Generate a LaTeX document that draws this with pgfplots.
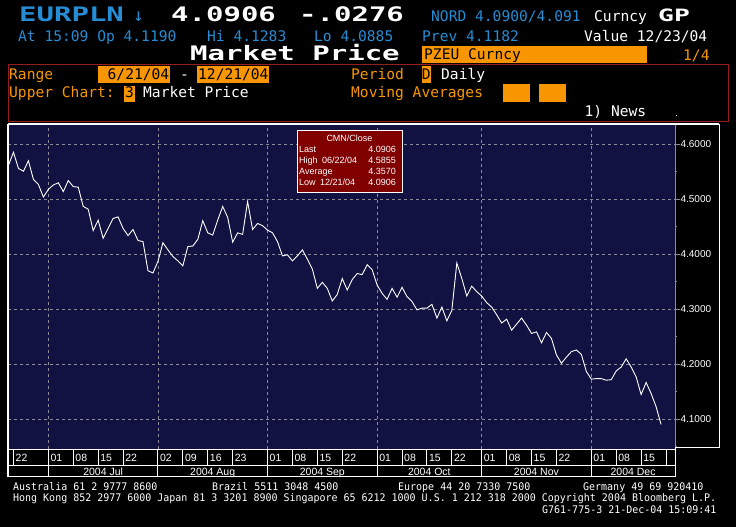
\documentclass[border=0pt]{standalone}
\usepackage{pgfplots}
\pgfplotsset{compat=1.18}
\usepackage{graphicx}
\usepackage{fontspec}
\setmainfont{Liberation Sans}
\newfontfamily\tmono{DejaVu Sans Mono}
\definecolor{bbblue}{RGB}{38,140,212}
\definecolor{bborange}{RGB}{247,150,0}
\definecolor{bbborder}{RGB}{150,30,30}
\definecolor{bbnavy}{RGB}{17,17,66}
\definecolor{bbgrid}{RGB}{140,140,150}
\definecolor{bblegend}{RGB}{128,0,0}
\newcommand\bbT{\fontsize{14.6}{16}\selectfont\tmono}
\newcommand\bbB[1]{\scalebox{1.45}[1]{\fontsize{20}{22}\selectfont\tmono\bfseries #1}}
\newcommand\bbF[1]{\scalebox{1}[1.05]{\fontsize{9.98}{11}\selectfont\tmono #1}}
\newcommand\bbL{\fontsize{9}{10}\selectfont}
\pgfplotstableread{
i v
0 4.562
1 4.5855
2 4.556
3 4.551
4 4.570
5 4.536
6 4.527
7 4.504
8 4.518
9 4.526
10 4.530
11 4.514
12 4.534
13 4.523
14 4.522
15 4.487
16 4.482
17 4.443
18 4.462
19 4.429
20 4.447
21 4.465
22 4.468
23 4.447
24 4.434
25 4.445
26 4.425
27 4.423
28 4.370
29 4.366
30 4.387
31 4.421
32 4.408
33 4.396
34 4.388
35 4.379
36 4.414
37 4.415
38 4.427
39 4.461
40 4.439
41 4.435
42 4.462
43 4.487
44 4.467
45 4.422
46 4.439
47 4.436
48 4.496
49 4.445
50 4.456
51 4.452
52 4.444
53 4.439
54 4.423
55 4.397
56 4.399
57 4.388
58 4.397
59 4.408
60 4.391
61 4.373
62 4.338
63 4.349
64 4.338
65 4.315
66 4.327
67 4.356
68 4.335
69 4.354
70 4.365
71 4.363
72 4.381
73 4.372
74 4.344
75 4.329
76 4.318
77 4.338
78 4.322
79 4.340
80 4.323
81 4.314
82 4.299
83 4.302
84 4.302
85 4.309
86 4.284
87 4.304
88 4.279
89 4.298
90 4.384
91 4.356
92 4.324
93 4.342
94 4.332
95 4.324
96 4.312
97 4.304
98 4.290
99 4.275
100 4.282
101 4.262
102 4.273
103 4.284
104 4.271
105 4.256
106 4.259
107 4.239
108 4.258
109 4.247
110 4.217
111 4.202
112 4.213
113 4.223
114 4.226
115 4.218
116 4.187
117 4.173
118 4.174
119 4.174
120 4.171
121 4.172
122 4.188
123 4.195
124 4.210
125 4.195
126 4.177
127 4.145
128 4.167
129 4.147
130 4.123
131 4.0906
}\prices
\begin{document}
\begin{tikzpicture}
\fill[black] (0pt,0pt) rectangle (736pt,527pt);
\begin{axis}[
  at={(8pt,78pt)}, anchor=south west,
  width=667pt, height=324pt, scale only axis,
  xmin=-0.1, xmax=133.8, ymin=4.046, ymax=4.635,
  axis background/.style={fill=bbnavy},
  axis line style={draw=none},
  xtick={8,30,52,74,95,117}, xticklabels={},
  xtick style={draw=none},
  ytick={4.1,4.2,4.3,4.4,4.5,4.6},
  minor ytick={4.05,4.15,4.25,4.35,4.45,4.55},
  ytick pos=right, yticklabel pos=right,
  ytick align=outside,
  major tick length=5pt, minor tick length=2pt,
  ytick style={bbgrid, line width=0.7pt},
  minor tick style={bbgrid, line width=0.7pt},
  grid=major,
  major grid style={bbgrid, dash pattern=on 3pt off 3pt, line width=0.7pt},
  yticklabel style={font=\fontsize{10}{12}\selectfont, text=white, anchor=west, xshift=-3pt},
  /pgf/number format/.cd, fixed, fixed zerofill, precision=4, assume math mode=true,
]
\addplot[white, line width=0.9pt] table[x=i, y=v] {\prices};
\end{axis}
\begin{scope}[x=1pt,y=1pt]
% frame
\draw[bbgrid, line width=1pt] (675,402) -- (675,78);
\draw[white, line width=1.5pt] (8,403) -- (8,50);
\draw[white, line width=1.2pt] (8,403) -- (719,403);
\draw[white, line width=1pt] (719,403) -- (719,79) -- (675,79);
\draw[white, line width=1pt] (8,77) -- (675,77);
\draw[white, line width=1pt] (8,61) -- (675,61);
\draw[white, line width=1pt] (8,50) -- (675,50);
\draw[white, line width=1pt] (675,79) -- (675,50);
\foreach \i in {1,13,18,23,35,40,45,57,62,67,79,84,89,100,105,110,122,127,132}
  \draw[white, line width=1pt] ({8.5+4.981*\i},77) -- ({8.5+4.981*\i},61);
\foreach \i in {8,30,52,74,95,117}
  \draw[white, line width=1pt] ({8.5+4.981*\i},77) -- ({8.5+4.981*\i},50);
\foreach \i/\l in {1/22,8/01,13/08,18/15,23/22,30/02,35/09,40/16,45/23,52/01,57/08,62/15,67/22,74/01,79/08,84/15,89/22,95/01,100/08,105/15,110/22,117/01,122/08,127/15}
  \node[anchor=base west, inner sep=0pt, text=white, font=\fontsize{10.5}{12}\selectfont] at ({8.5+4.981*\i+2},65.3) {\l};
\foreach \x/\l in {103.1/Jul,212.7/Aug,322.3/Sep,429.3/Oct,536.4/Nov,633.1/Dec}
  \node[anchor=base, inner sep=0pt, text=white, font=\fontsize{10.5}{12}\selectfont] at (\x,51.5) {2004 \l};
% legend box
\draw[white, line width=1pt, fill=bblegend] (297,396) rectangle (402,334);
\node[anchor=base, inner sep=0pt, text=white, font=\bbL] at (349.5,385) {CMN/Close};
\node[anchor=base west, inner sep=0pt, text=white, font=\bbL] at (299,374) {Last};
\node[anchor=base west, inner sep=0pt, text=white, font=\bbL] at (299,363) {High};
\node[anchor=base west, inner sep=0pt, text=white, font=\bbL] at (299,352) {Average};
\node[anchor=base west, inner sep=0pt, text=white, font=\bbL] at (299,341) {Low};
\node[anchor=base west, inner sep=0pt, text=white, font=\bbL] at (322,363) {06/22/04};
\node[anchor=base west, inner sep=0pt, text=white, font=\bbL] at (320,341) {12/21/04};
\node[anchor=base east, inner sep=0pt, text=white, font=\bbL] at (396,374) {4.0906};
\node[anchor=base east, inner sep=0pt, text=white, font=\bbL] at (396,363) {4.5855};
\node[anchor=base east, inner sep=0pt, text=white, font=\bbL] at (396,352) {4.3570};
\node[anchor=base east, inner sep=0pt, text=white, font=\bbL] at (396,341) {4.0906};
% header line 1
\node[anchor=base west, inner sep=0pt, text=bbblue] at (19,505) {\bbB{EURPLN}};
\node[anchor=base west, inner sep=0pt, text=bbblue] at (133,505) {\fontsize{18}{20}\selectfont\tmono ↓};
\node[anchor=base west, inner sep=0pt, text=white] at (171,505) {\bbB{4.0906}};
\node[anchor=base west, inner sep=0pt, text=white] at (299,505) {\bbB{-.0276}};
\node[anchor=base west, inner sep=0pt, text=bbblue] at (431,505) {\bbT NORD 4.0900/4.091};
\node[anchor=base west, inner sep=0pt, text=white] at (594,505) {\bbT Curncy};
\node[anchor=base west, inner sep=0pt, text=white] at (658,505) {\scalebox{1.55}[1]{\fontsize{17}{19}\selectfont\tmono\bfseries GP}};
% header line 2
\node[anchor=base west, inner sep=0pt, text=bbblue] at (18,485) {\bbT At 15:09 Op 4.1190};
\node[anchor=base west, inner sep=0pt, text=bbblue] at (207,485) {\bbT Hi 4.1283};
\node[anchor=base west, inner sep=0pt, text=bbblue] at (314,485) {\bbT Lo 4.0885};
\node[anchor=base west, inner sep=0pt, text=bbblue] at (422,485) {\bbT Prev 4.1182};
\node[anchor=base west, inner sep=0pt, text=white] at (584,485) {\bbT Value 12/23/04};
% header line 3
\node[anchor=base west, inner sep=0pt, text=white] at (190,466) {\bbB{Market Price}};
\fill[bborange] (422,464) rectangle (647,481);
\node[anchor=base west, inner sep=0pt, text=black] at (424,467) {\bbT PZEU Curncy};
\node[anchor=base west, inner sep=0pt, text=bborange] at (683,466) {\bbT 1/4};
% settings box
\draw[bbborder, line width=1pt] (8,462) rectangle (728,405);
\node[anchor=base west, inner sep=0pt, text=bborange] at (9,447) {\bbT Range};
\fill[bborange] (98,461) rectangle (170,444);
\node[anchor=base west, inner sep=0pt, text=black] at (107.5,447) {\bbT 6/21/04};
\node[anchor=base west, inner sep=0pt, text=white] at (180,447) {\bbT -};
\fill[bborange] (197,461) rectangle (268.5,444);
\node[anchor=base west, inner sep=0pt, text=black] at (198,447) {\bbT 12/21/04};
\node[anchor=base west, inner sep=0pt, text=bborange] at (351,447) {\bbT Period};
\fill[bborange] (421.6,461) rectangle (430.5,444);
\node[anchor=base west, inner sep=0pt, text=black] at (421.7,447) {\bbT D};
\node[anchor=base west, inner sep=0pt, text=white] at (441,447) {\bbT Daily};
\node[anchor=base west, inner sep=0pt, text=bborange] at (9,429) {\bbT Upper Chart:};
\fill[bborange] (124.4,441) rectangle (134.7,425.3);
\node[anchor=base west, inner sep=0pt, text=black] at (125,429) {\bbT 3};
\node[anchor=base west, inner sep=0pt, text=white] at (143,429) {\bbT Market Price};
\node[anchor=base west, inner sep=0pt, text=bborange] at (351,429) {\bbT Moving Averages};
\fill[bborange] (503,443) rectangle (530,425);
\fill[bborange] (539,443) rectangle (566,425);
\node[anchor=base west, inner sep=0pt, text=white] at (584.5,410) {\bbT 1) News};
\fill[white] (676,411) rectangle (677,412);
% footer
\node[anchor=base west, inner sep=0pt, text=white] at (13,36) {\bbF{Australia 61 2 9777 8600}};
\node[anchor=base west, inner sep=0pt, text=white] at (212,36) {\bbF{Brazil 5511 3048 4500}};
\node[anchor=base west, inner sep=0pt, text=white] at (398,36) {\bbF{Europe 44 20 7330 7500}};
\node[anchor=base west, inner sep=0pt, text=white] at (583,36) {\bbF{Germany 49 69 920410}};
\node[anchor=base west, inner sep=0pt, text=white] at (13,25.5) {\bbF{Hong Kong 852 2977 6000 Japan 81 3 3201 8900 Singapore 65 6212 1000 U.S. 1 212 318 2000 Copyright 2004 Bloomberg L.P.}};
\node[anchor=base west, inner sep=0pt, text=white] at (542,13.5) {\bbF{G761-775-3 21-Dec-04 15:09:41}};
\end{scope}
\pgfresetboundingbox
\path (0pt,0pt) rectangle (736pt,527pt);
\end{tikzpicture}
\end{document}
